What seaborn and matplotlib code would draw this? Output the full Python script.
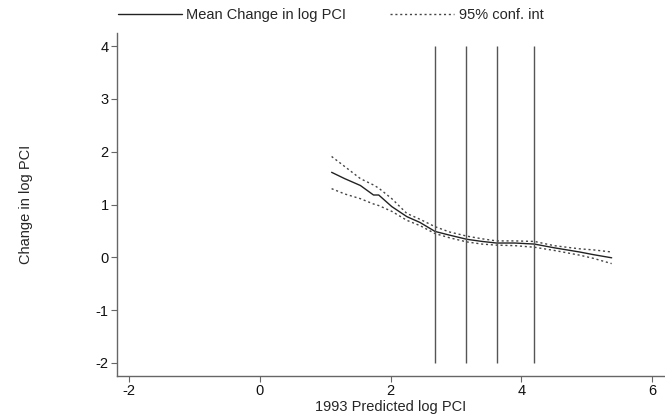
import numpy as np
import pandas as pd
import matplotlib
matplotlib.use("Agg")
import matplotlib.pyplot as plt
import seaborn as sns

# ---- data ----
x_vals = [1.10, 1.30, 1.54, 1.74, 1.82, 2.02, 2.25, 2.45, 2.68, 2.90, 3.17,
          3.40, 3.62, 3.90, 4.20, 4.50, 4.89, 5.10, 5.38]
mean_change = [1.61, 1.49, 1.36, 1.18, 1.18, 0.96, 0.77, 0.66, 0.49, 0.42, 0.34,
               0.30, 0.27, 0.27, 0.25, 0.18, 0.10, 0.05, -0.01]
ci_upper = [1.91, 1.72, 1.49, 1.37, 1.31, 1.11, 0.83, 0.72, 0.58, 0.48, 0.40,
            0.35, 0.31, 0.31, 0.30, 0.22, 0.16, 0.14, 0.10]
ci_lower = [1.30, 1.20, 1.11, 1.01, 0.98, 0.87, 0.70, 0.60, 0.45, 0.37, 0.29,
            0.25, 0.23, 0.22, 0.19, 0.13, 0.04, -0.02, -0.12]
vline_x = [2.68, 3.16, 3.63, 4.19]
x_ticks = [-2, 0, 2, 4, 6]
y_ticks = [-2, -1, 0, 1, 2, 3, 4]

df = pd.DataFrame({"x": x_vals, "mean": mean_change,
                   "upper": ci_upper, "lower": ci_lower})

sns.set_style("white")
plt.rcParams["font.family"] = ["Liberation Sans", "DejaVu Sans"]

fig = plt.figure(figsize=(6.65, 4.2), dpi=100)
ax = fig.add_axes([117 / 665, 44 / 420, 547 / 665, 343 / 420])

sns.lineplot(data=df, x="x", y="mean", ax=ax, color="#222222", lw=1.0,
             label="Mean Change in log PCI", legend=False)
sns.lineplot(data=df, x="x", y="upper", ax=ax, color="#444444", lw=1.0,
             linestyle=(0, (1.5, 2)), label="95% conf. int", legend=False)
sns.lineplot(data=df, x="x", y="lower", ax=ax, color="#444444", lw=1.0,
             linestyle=(0, (1.5, 2)), legend=False)

ax.vlines(vline_x, -2, 4, color="#555555", lw=1.0)

ax.set_xlim(-2.18, 6.18)
ax.set_ylim(-2.25, 4.25)
ax.set_xticks(x_ticks)
ax.set_yticks(y_ticks)
ax.set_xticklabels([str(t) for t in x_ticks])
ax.set_yticklabels([str(t) for t in y_ticks])

for s in ["top", "right"]:
    ax.spines[s].set_visible(False)
for s in ["left", "bottom"]:
    ax.spines[s].set_color("#666666")
    ax.spines[s].set_linewidth(1.0)
ax.tick_params(axis="both", direction="out", length=4, width=0.8,
               color="#666666", labelsize=10.5, labelcolor="#111111", pad=2,
               bottom=True, left=True)

ax.set_xlabel("1993 Predicted log PCI", fontsize=10.5, labelpad=1)
ax.set_ylabel("Change in log PCI", fontsize=10.5)
ax.yaxis.set_label_coords(-0.154, 0.5)

handles, labels = ax.get_legend_handles_labels()
fig.legend(handles, labels, loc="center left", bbox_to_anchor=(112 / 665, 1 - 15 / 420),
           ncol=2, frameon=False, fontsize=10.5, handlelength=4.4,
           handletextpad=0.3, columnspacing=3.0, borderaxespad=0)

fig.savefig("out.png", dpi=100)
